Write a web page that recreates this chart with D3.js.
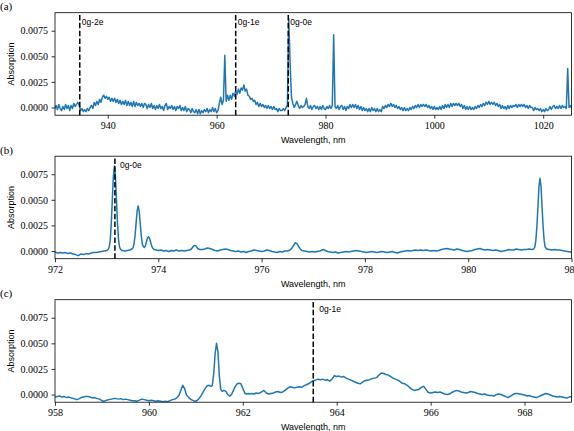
<!DOCTYPE html>
<html><head><meta charset="utf-8">
<script src="https://cdn.jsdelivr.net/npm/d3@7"></script>
<style>
html,body{margin:0;padding:0;background:#fff;}
svg{display:block;}
</style></head>
<body>
<script>
// ---------------- DATA (absorption in units of 1e-4) ----------------
// Panel (a): survey spectrum sampled every 0.25 nm starting at 930.0 nm (one row per nm)
const specA_start = 930.0;
const specA_step = 0.25;
const specA_vals = [
  2, -1, 2, -2,   3, -1, -3, 1,   -2, 3, -1, 2,   -3, 2, -1, 4,   1, 3, 5, 2,    // 930-934
  -3, -1, -4, -2,  -4, -1, -3, 0,  2, -1, 5, 2,  6, 3, 8, 5,  10, 12, 9, 11,    // 935-939
  8, 10, 6, 9,  6, 9, 5, 8,  4, 7, 3, 6,  3, 7, 2, 6,  2, 5, 1, 6,              // 940-944
  1, 5, 2, 4,  1, 4, 0, 4,  3, -1, 3, 0,  4, -1, 2, -2,  2, -1, 3, -1,          // 945-949
  1, -3, 2, 4,  -2, 1, -1, 2,  -2, 1, -3, 1,  -1, 2, -3, 0,  -3, 1, -4, -1,     // 950-954
  -2, -5, -1, -4,  -5, -2, -6, -2,  -6, -3, -5, -2,  -4, -1, -5, -2,  -4, 0, -4, -1, // 955-959
  -5, -3, 4, 10,  3, 7, 51, 6,  12, 7, 12, 8,  14, 11, 16, 13,  18, 14, 19, 17, // 960-964
  22, 16, 18, 12,  11, 8, 9, 6,  7, 3, 5, 1,  4, 1, 3, 0,  2, -1, 2, -1,        // 965-969
  1, -2, 1, -2,  -1, -4, -1, -3,  -3, -1, -3, 0,  2, 87, 43, 10,  4, 0, 3, 6,   // 970-974
  2, -1, 2, 0,  1, 3, 9, 1,  -1, 2, -2, 1,  2, -1, 1, -2,  1, -2, 2, -1,        // 975-979
  -2, 1, -1, 2,  -1, 2, 71, 1,  -1, 2, -2, 1,  2, -2, 1, -3,  1, -1, 3, 0,      // 980-984
  3, 0, 3, -1,  2, -2, 1, -3,  0, -3, -1, -4,  -1, -4, 0, -3,  -1, -4, -1, -4,  // 985-989
  -2, -4, 1, -1,  2, 0, 3, 1,  4, 1, 3, 0,  2, -1, 1, -2,  0, -3, 0, -3,        // 990-994
  -1, -3, 0, -2,  1, -1, 2, 0,  3, 0, 3, 1,  3, 1, 3, 0,  2, -1, 1, -2,         // 995-999
  1, -2, 0, -2,  1, -2, 2, -1,  3, 0, 3, 0,  4, 1, 4, 2,  4, 2, 4, 1,           // 1000-1004
  3, -1, 2, -2,  1, -2, 1, -2,  0, -2, 1, -1,  2, 0, 3, 1,  4, 2, 5, 3,         // 1005-1009
  6, 3, 5, 3,  5, 2, 4, 1,  3, -1, 2, -1,  1, -2, 2, -1,  2, 0, 2, 1,           // 1010-1014
  3, 0, 3, 1,  3, 1, 3, 0,  2, -1, 2, 0,  0, -3, 0, -2,  -1, -3, -1, -4,        // 1015-1019
  -2, -4, -1, -3,  -2, 1, -2, 1,  2, -1, 1, -1,  2, -1, 2, 0,  1, -1, 38, 0,    // 1020-1024
  2, -1, 1, 0                                                                    // 1025
];

// Panel (b): zoom 972-982 nm, [wavelength nm, absorption 1e-4]
const specB = [
 [972.0,-1],[972.05,-2],[972.1,-1.5],[972.15,-2],[972.2,-1.5],[972.25,-2.5],[972.3,-2],[972.35,-3],
 [972.4,-3.5],[972.45,-4.5],[972.5,-3],[972.55,-3.5],[972.6,-2.5],[972.65,-3],[972.7,-2],[972.75,-1.5],
 [972.8,-1.5],[972.85,-1],[972.9,-0.5],[972.95,0],[973.0,0.5],[973.03,1.5],[973.05,4],[973.07,11],
 [973.09,27],[973.11,50],[973.13,73],[973.15,83],[973.17,73],[973.19,50],[973.21,27],[973.23,11],
 [973.25,4],[973.27,1.5],[973.3,0.5],[973.35,0],[973.4,0.5],[973.45,1],[973.49,2],[973.51,3],
 [973.53,7],[973.55,15],[973.57,27],[973.59,39],[973.61,44],[973.63,39],[973.65,27],[973.67,15],
 [973.69,7],[973.71,4.5],[973.73,3.5],[973.75,5],[973.77,9],[973.79,12.5],[973.81,14],[973.83,12.5],
 [973.85,9],[973.87,5],[973.89,3],[973.92,1.5],[973.96,1],[974.0,0.5],[974.05,1],[974.1,0],
 [974.15,0.5],[974.2,-0.5],[974.25,0.5],[974.3,0],[974.35,1],[974.4,0],[974.45,0.5],[974.5,0],
 [974.55,0.5],[974.6,1],[974.64,2],[974.67,4],[974.7,5.5],[974.73,5],[974.76,2.5],[974.8,1.5],
 [974.85,1.5],[974.9,2],[974.95,3],[975.0,2.5],[975.05,1.5],[975.1,0.5],[975.15,0],[975.2,1],
 [975.25,1.5],[975.3,2],[975.35,1.5],[975.4,0.5],[975.45,0],[975.5,-0.5],[975.55,0],[975.6,-1],
 [975.65,-0.5],[975.7,-1.5],[975.75,-0.5],[975.8,0],[975.85,1],[975.9,0.5],[975.95,0],[976.0,-0.5],
 [976.05,0],[976.1,1],[976.15,0.5],[976.2,-0.5],[976.25,-1],[976.3,-1.5],[976.35,-0.5],[976.4,-1],
 [976.45,0],[976.5,0],[976.55,1],[976.59,3],[976.62,5.5],[976.65,8],[976.68,7.5],[976.71,5],
 [976.74,2.5],[976.78,0.5],[976.83,0],[976.88,-0.5],[976.93,-1],[976.98,-0.5],[977.03,-1],[977.08,-0.5],
 [977.13,0],[977.17,1],[977.2,1.5],[977.23,0.5],[977.28,-0.5],[977.33,-1],[977.38,-1.5],[977.43,-1],
 [977.48,-2],[977.53,-1.5],[977.58,-1],[977.63,-0.5],[977.68,-1],[977.73,-0.5],[977.78,0],[977.83,0.5],
 [977.88,0],[977.93,-0.5],[977.98,-1],[978.03,-1.5],[978.08,-1],[978.13,-0.5],[978.18,-1],[978.23,-1.5],
 [978.28,-1],[978.33,-0.5],[978.38,-1],[978.43,-1.5],[978.48,-1],[978.53,-0.5],[978.58,-1.5],[978.63,-2],
 [978.68,-1],[978.73,-0.5],[978.78,0],[978.83,0.5],[978.88,0],[978.93,0.5],[978.98,1],[979.03,0.5],
 [979.08,1],[979.13,0.5],[979.18,1],[979.23,0.5],[979.28,0],[979.33,0.5],[979.38,0],[979.43,0.5],
 [979.48,1.5],[979.53,2],[979.58,2.5],[979.63,2],[979.68,1.5],[979.73,1],[979.78,2],[979.83,1.5],
 [979.88,0.5],[979.93,0],[979.98,-0.5],[980.03,0],[980.08,0.5],[980.13,1.5],[980.18,2],[980.23,2.5],
 [980.28,1.5],[980.33,1],[980.38,1.5],[980.43,1],[980.48,0.5],[980.53,1],[980.58,0.5],[980.63,-0.5],
 [980.68,0],[980.73,0.5],[980.78,1.5],[980.83,1],[980.88,1],[980.93,2],[980.98,1.5],[981.03,1],
 [981.08,1.5],[981.13,1.5],[981.18,2],[981.23,1.5],[981.27,2],[981.29,4],[981.31,10.5],[981.33,24],
 [981.35,43],[981.37,63],[981.39,71],[981.41,63],[981.43,43],[981.45,24],[981.47,10.5],[981.49,4],
 [981.52,2],[981.57,1.5],[981.62,1],[981.67,1.5],[981.72,1],[981.77,1],[981.82,0.5],[981.87,0],
 [981.92,-0.5],[981.97,-1],[982.0,-1]
];

// Panel (c): zoom 958-969 nm, [wavelength nm, absorption 1e-4]
const specC = [
 [958.0,-2.5],[958.05,-2],[958.1,-1.5],[958.15,-2.5],[958.2,-2],[958.25,-3],[958.3,-2.5],[958.35,-3.5],
 [958.4,-4],[958.46,-5],[958.52,-4],[958.56,-3],[958.6,-2.5],[958.65,-2],[958.7,-2],[958.75,-2.5],
 [958.8,-3.5],[958.85,-3],[958.9,-4],[958.95,-4.5],[959.0,-6],[959.05,-6.5],[959.1,-5.5],[959.15,-5],
 [959.2,-4.5],[959.25,-4],[959.3,-4],[959.35,-4.5],[959.4,-4],[959.45,-5],[959.5,-4.5],[959.55,-5],
 [959.6,-5.5],[959.65,-6],[959.7,-6],[959.75,-6.5],[959.8,-5.5],[959.85,-4.5],[959.9,-5],[959.95,-5.5],
 [960.0,-6],[960.05,-5.5],[960.1,-6],[960.15,-6.5],[960.2,-6],[960.25,-6.5],[960.3,-7],[960.35,-6.5],
 [960.4,-7],[960.45,-6],[960.5,-5],[960.55,-4.5],[960.6,-3],[960.64,-1],[960.68,4],[960.72,9],
 [960.76,6],[960.8,-0.5],[960.85,-3],[960.9,-5],[960.95,-6],[961.0,-6.5],[961.05,-5],[961.1,-2],
 [961.15,2],[961.2,6],[961.24,8.5],[961.28,9],[961.32,8],[961.35,9],[961.38,20],[961.41,40],
 [961.44,50],[961.47,42],[961.5,18],[961.53,5],[961.56,3],[961.6,4],[961.64,3],[961.68,0],
 [961.72,-1.5],[961.76,0],[961.8,4],[961.84,8],[961.88,10.5],[961.92,11],[961.96,10.5],[962.0,6],
 [962.04,1.5],[962.08,0.5],[962.12,1],[962.16,0.5],[962.2,1],[962.24,0.5],[962.28,1.5],[962.32,1],
 [962.36,1.5],[962.4,2.5],[962.45,4],[962.5,1.5],[962.55,0.5],[962.6,1],[962.65,1.5],[962.7,2.5],
 [962.75,3],[962.8,2],[962.85,2.5],[962.9,4],[962.95,6],[963.0,7.5],[963.05,7],[963.1,6.5],
 [963.15,7],[963.2,7.5],[963.25,7],[963.3,8.5],[963.35,9.5],[963.4,10.5],[963.45,12],[963.5,13.5],
 [963.55,14],[963.6,15],[963.65,14.5],[963.7,15],[963.75,14],[963.8,14.5],[963.85,13],[963.9,15],
 [963.95,18.5],[964.0,17.5],[964.05,18],[964.1,17],[964.15,17.5],[964.2,16],[964.25,15],[964.3,14],
 [964.35,13],[964.4,12],[964.45,11],[964.5,10.5],[964.55,12],[964.6,13.5],[964.65,14],[964.7,14.5],
 [964.75,15.5],[964.8,16],[964.85,16.5],[964.9,19],[964.95,21],[965.0,20.5],[965.05,19.5],[965.1,19],
 [965.15,17.5],[965.2,16],[965.25,15],[965.3,14],[965.35,12.5],[965.4,11],[965.45,10.5],[965.5,9],
 [965.55,7],[965.6,5],[965.65,4],[965.7,4.5],[965.75,5],[965.8,7],[965.85,8],[965.9,5],
 [965.95,2],[966.0,1.5],[966.05,2],[966.1,2.5],[966.15,2],[966.2,2.5],[966.25,1.5],[966.3,0.5],
 [966.35,0],[966.4,0.5],[966.45,2],[966.5,3],[966.55,4],[966.6,3.5],[966.65,2.5],[966.7,2],
 [966.75,1.5],[966.8,2],[966.85,3],[966.9,2.5],[966.95,2],[967.0,1],[967.05,0.5],[967.1,0],
 [967.15,0.5],[967.2,-0.5],[967.25,-1],[967.3,-1],[967.35,-1.5],[967.4,0],[967.45,0.5],[967.5,0],
 [967.55,-1],[967.6,-2],[967.65,-3],[967.7,-1.5],[967.75,0],[967.8,1],[967.85,1],[967.9,0.5],
 [967.95,0],[968.0,-0.5],[968.05,-1.5],[968.1,-1],[968.15,-2],[968.2,-2.5],[968.25,-3],[968.3,-2],
 [968.35,-1],[968.4,0],[968.45,1],[968.5,0.5],[968.55,-0.5],[968.6,-1.5],[968.65,-2],[968.7,-2.5],
 [968.75,-2],[968.8,-2.5],[968.85,-3],[968.9,-3.5],[968.95,-2.5],[969.0,-2]
];

// Axis ranges, ticks and markers
const xDomainA = [930.3, 1025.2], xTicksA = [940, 960, 980, 1000, 1020];
const xDomainB = [972, 982],      xTicksB = [972, 974, 976, 978, 980, 982];
const xDomainC = [958, 969],      xTicksC = [958, 960, 962, 964, 966, 968];
const yDomain = [-0.00075, 0.00926];
const yTicks = [0, 0.0025, 0.005, 0.0075];
const markersA = [{wl: 934.85, label: "0g-2e"}, {wl: 963.5, label: "0g-1e"}, {wl: 973.16, label: "0g-0e"}];
const markersB = [{wl: 973.16, label: "0g-0e"}];
const markersC = [{wl: 963.5, label: "0g-1e"}];
const panelLabels = ["(a)", "(b)", "(c)"];
const xLabel = "Wavelength, nm";
const yLabel = "Absorption";
const UNIT = 1e-4;

// ---------------- DRAWING ----------------
const W = 574, H = 431;
const L = 55, R = 571.5, PH = 102.5;
const tops = [12.7, 156.2, 299.7];
const labelOffsets = [2, 5, 6];
const BLUE = "#1f77b4";
const SERIF = "'Liberation Serif','Times New Roman',serif";
const SANS = "'Liberation Sans',Arial,sans-serif";

const svg = d3.select("body").append("svg").attr("width", W).attr("height", H);

const seriesA = specA_vals.map((v, i) => [specA_start + i * specA_step, v * UNIT]);
const seriesB = specB.map(d => [d[0], d[1] * UNIT]);
const seriesC = specC.map(d => [d[0], d[1] * UNIT]);

const panels = [
  {xd: xDomainA, xt: xTicksA, data: seriesA, markers: markersA},
  {xd: xDomainB, xt: xTicksB, data: seriesB, markers: markersB},
  {xd: xDomainC, xt: xTicksC, data: seriesC, markers: markersC}
];

panels.forEach((p, i) => {
  const top = tops[i], bottom = top + PH;
  const x = d3.scaleLinear().domain(p.xd).range([L, R]);
  const y = d3.scaleLinear().domain(yDomain).range([bottom, top]);
  const g = svg.append("g");

  const clipId = "clip" + i;
  g.append("clipPath").attr("id", clipId).append("rect")
    .attr("x", L).attr("y", top).attr("width", R - L).attr("height", PH);

  // spectrum
  g.append("path").datum(p.data)
    .attr("clip-path", `url(#${clipId})`)
    .attr("fill", "none").attr("stroke", BLUE).attr("stroke-width", 1.5)
    .attr("stroke-linejoin", "round")
    .attr("d", d3.line().x(d => x(d[0])).y(d => y(d[1])));

  // dashed markers
  p.markers.forEach(m => {
    g.append("line")
      .attr("x1", x(m.wl)).attr("x2", x(m.wl))
      .attr("y1", bottom).attr("y2", top)
      .attr("stroke", "#000").attr("stroke-width", 1.5)
      .attr("stroke-dasharray", "5.5,2.4");
    g.append("text")
      .attr("x", x(m.wl) + labelOffsets[i]).attr("y", y(0.0081))
      .attr("font-family", SANS).attr("font-size", 8.5).attr("fill", "#000")
      .text(m.label);
  });

  // axes
  const xa = g.append("g").attr("transform", `translate(0,${bottom})`)
    .call(d3.axisBottom(x).tickValues(p.xt).tickFormat(d3.format("d")).tickSize(3.5).tickPadding(3.5));
  const ya = g.append("g").attr("transform", `translate(${L},0)`)
    .call(d3.axisLeft(y).tickValues(yTicks).tickFormat(d3.format(".4f")).tickSize(3.5).tickPadding(3.5));
  [xa, ya].forEach(a => {
    a.select(".domain").remove();
    a.selectAll(".tick line").attr("stroke", "#000").attr("stroke-width", 0.8);
    a.selectAll(".tick text").attr("font-family", SERIF).attr("font-size", 10).attr("fill", "#000");
  });

  // frame
  g.append("rect").attr("x", L).attr("y", top).attr("width", R - L).attr("height", PH)
    .attr("fill", "none").attr("stroke", "#000").attr("stroke-width", 0.8);

  // labels
  g.append("text").attr("x", (L + R) / 2).attr("y", bottom + 28)
    .attr("text-anchor", "middle").attr("font-family", SANS).attr("font-size", 9)
    .text(xLabel);
  g.append("text").attr("transform", `translate(14,${(top + bottom) / 2}) rotate(-90)`)
    .attr("text-anchor", "middle").attr("font-family", SANS).attr("font-size", 9)
    .text(yLabel);
  g.append("text").attr("x", 0).attr("y", top - 2.5)
    .attr("font-family", SERIF).attr("font-size", 11).text(panelLabels[i]);
});
</script>
</body></html>
